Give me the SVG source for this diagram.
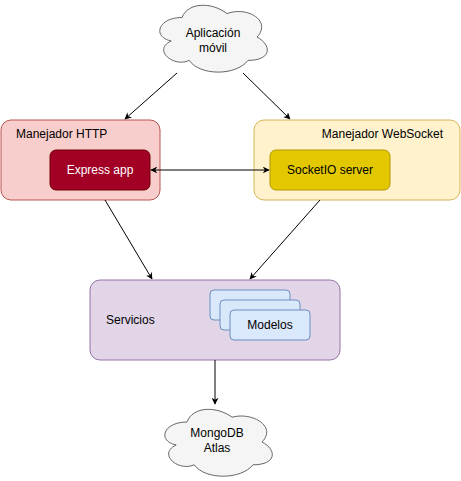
<svg xmlns="http://www.w3.org/2000/svg" width="461" height="481" viewBox="0 0 461 481">
<defs>
<marker id="arr" viewBox="0 0 10 10" refX="9" refY="5" markerWidth="7" markerHeight="7" orient="auto-start-reverse" markerUnits="userSpaceOnUse">
<path d="M0,0 L10,5 L0,10 L3,5 Z" fill="#000"/>
</marker>
<style>
text{font-family:"Liberation Sans",Arial,sans-serif;font-size:12px;fill:#000}
.c{text-anchor:middle}
.cloud{fill:#f5f5f5;stroke:#666;stroke-width:1}
.edge{fill:none;stroke:#000;stroke-width:1;marker-end:url(#arr)}
</style>
</defs>
<rect width="461" height="481" fill="#fff"/>
<g id="app">
<path class="cloud" d="M182,17.5 C158,17.5 152,37 171.2,41 C152,49.5 173.6,68 189.2,60.4 C200,76 236,76 248,60.4 C272,60.4 272,45 257,37 C272,21.4 248,5.8 227,13.6 C212,1.9 188,1.9 182,17.5 Z"/>
<text class="c" x="213" y="37">Aplicación</text>
<text class="c" x="213" y="52">móvil</text>
</g>
<g id="http">
<rect x="1" y="120" width="159" height="80" rx="10" fill="#f8cecc" stroke="#b85450"/>
<text x="16" y="138">Manejador HTTP</text>
</g>
<g id="express">
<rect x="50" y="150" width="100" height="40" rx="6" fill="#a20025" stroke="#6f0000"/>
<text class="c" x="100" y="174" style="fill:#fff">Express app</text>
</g>
<g id="ws">
<rect x="254" y="120" width="206" height="80" rx="10" fill="#fff2cc" stroke="#d6b656"/>
<text x="443" y="138" style="text-anchor:end">Manejador WebSocket</text>
</g>
<g id="socketio">
<rect x="270" y="150" width="120" height="40" rx="6" fill="#e3c800" stroke="#b09500"/>
<text class="c" x="330" y="174">SocketIO server</text>
</g>
<g id="servicios">
<rect x="90" y="280" width="250" height="80" rx="10" fill="#e1d5e7" stroke="#9673a6"/>
<text x="106" y="324">Servicios</text>
</g>
<g id="modelos">
<rect x="210" y="290" width="80" height="30" rx="4" fill="#dae8fc" stroke="#6c8ebf"/>
<rect x="220" y="300" width="80" height="30" rx="4" fill="#dae8fc" stroke="#6c8ebf"/>
<rect x="230" y="310" width="80" height="30" rx="4" fill="#dae8fc" stroke="#6c8ebf"/>
<text class="c" x="270" y="329">Modelos</text>
</g>
<g id="mongo">
<path class="cloud" d="M187,422 C163,422 157,441 176.2,445 C157,454 178.6,472 194.2,464.8 C205,480 241,480 253,464.8 C277,464.8 277,449.6 262,442 C277,426.8 253,411.6 232,417.2 C217,406 193,406 187,422 Z"/>
<text class="c" x="217" y="437">MongoDB</text>
<text class="c" x="217" y="452">Atlas</text>
</g>
<g id="connectors">
<path class="edge" d="M177,73 L125,119"/>
<path class="edge" d="M243,73 L290,119"/>
<path class="edge" d="M151,170 L269,170" style="marker-start:url(#arr)"/>
<path class="edge" d="M105,200 L152,279"/>
<path class="edge" d="M320,200 L250,279"/>
<path class="edge" d="M215,360 L215,404"/>
</g>
</svg>
